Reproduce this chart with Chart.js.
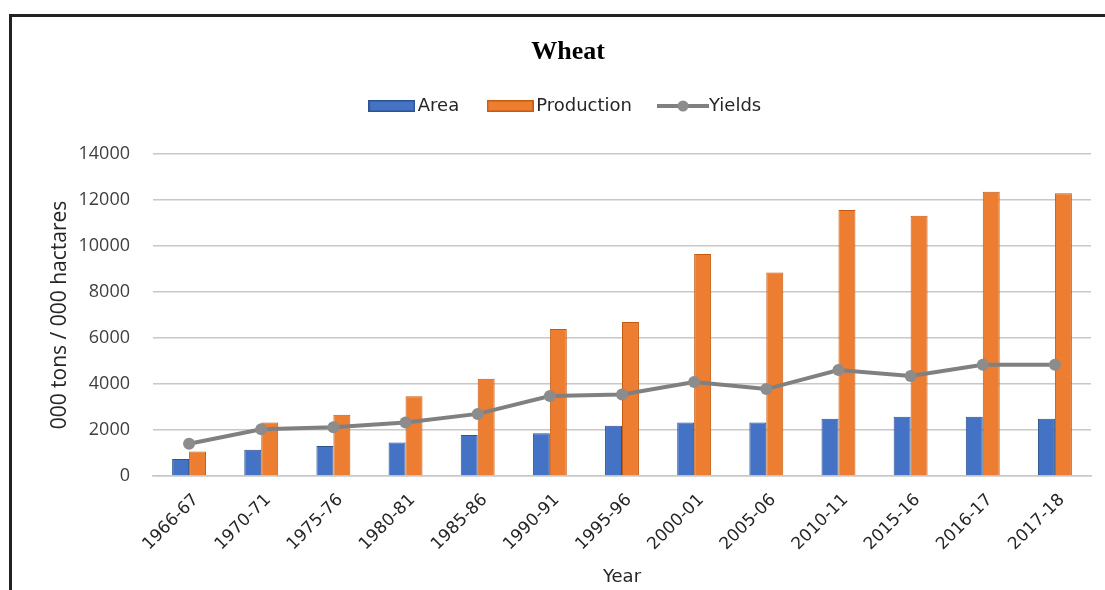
<!DOCTYPE html>
<html>
<head>
<meta charset="utf-8">
<script src="https://cdn.jsdelivr.net/npm/chart.js@4/dist/chart.umd.min.js"></script>
<style>
  html, body { margin: 0; padding: 0; background: #fff; }
  #wrap { position: relative; width: 1105px; height: 590px; overflow: hidden; }
  #frame {
    position: absolute; left: 9px; top: 14px; right: -10px; bottom: -10px;
    border-left: 3px solid #222; border-top: 3px solid #222; pointer-events: none;
  }
</style>
</head>
<body>
<div id="wrap">
  <canvas id="chart" width="1105" height="590"></canvas>
  <div id="frame"></div>
</div>
<script>
// Wheat: area (000 ha), production (000 t) and yields by year
const years = ['1966-67', '1970-71', '1975-76', '1980-81', '1985-86', '1990-91', '1995-96',
               '2000-01', '2005-06', '2010-11', '2015-16', '2016-17', '2017-18'];
const area = [740, 1140, 1300, 1460, 1780, 1860, 2190, 2330, 2330, 2490, 2580, 2580, 2490];
const production = [1060, 2330, 2660, 3470, 4230, 6390, 6700, 9650, 8850, 11560, 11320, 12360, 12290];
const yields = [1400, 2030, 2120, 2330, 2700, 3480, 3540, 4090, 3780, 4610, 4350, 4840, 4840];
const yTicks = [0, 2000, 4000, 6000, 8000, 10000, 12000, 14000];

const BLUE = '#4472c4', BLUE_EDGE = '#2f528f';
const ORANGE = '#ed7d31', ORANGE_EDGE = '#c55a11';
const GREY = '#808080';

// legend swatches: filled bar boxes and a line-with-marker icon
function boxIcon(fill, edge) {
  const c = document.createElement('canvas');
  c.width = 47; c.height = 12;
  const g = c.getContext('2d');
  g.fillStyle = fill; g.fillRect(0, 0, 47, 12);
  g.strokeStyle = edge; g.lineWidth = 1.5; g.strokeRect(0.75, 0.75, 45.5, 10.5);
  return c;
}
function lineIcon(color) {
  const c = document.createElement('canvas');
  c.width = 52; c.height = 14;
  const g = c.getContext('2d');
  g.strokeStyle = color; g.lineWidth = 4;
  g.beginPath(); g.moveTo(0, 7); g.lineTo(52, 7); g.stroke();
  g.fillStyle = '#8c8c8c';
  g.beginPath(); g.arc(26, 7, 5.5, 0, Math.PI * 2); g.fill();
  return c;
}
const legendIcons = [boxIcon(BLUE, BLUE_EDGE), boxIcon(ORANGE, ORANGE_EDGE), lineIcon(GREY)];

// extra room between the legend and the plot
const legendGap = {
  id: 'legendGap',
  beforeInit(chart) {
    const fit = chart.legend.fit;
    chart.legend.fit = function () { fit.call(this); this.height += 29; };
  }
};

new Chart(document.getElementById('chart'), {
  type: 'bar',
  data: {
    labels: years,
    datasets: [
      { label: 'Area', data: area, backgroundColor: BLUE, borderColor: BLUE_EDGE,
        borderWidth: 1, barPercentage: 1, categoryPercentage: 0.47, order: 1 },
      { label: 'Production', data: production, backgroundColor: ORANGE, borderColor: ORANGE_EDGE,
        borderWidth: 1, barPercentage: 1, categoryPercentage: 0.47, order: 1 },
      { type: 'line', label: 'Yields', data: yields, borderColor: GREY, borderWidth: 4,
        pointRadius: 6, pointBackgroundColor: '#8c8c8c', pointBorderColor: '#8c8c8c',
        pointBorderWidth: 0, tension: 0, fill: false, order: 0 }
    ]
  },
  options: {
    responsive: false,
    animation: false,
    layout: { padding: { left: 45, right: 14, top: 0, bottom: 0 } },
    plugins: {
      title: {
        display: true, text: 'Wheat', color: '#000',
        font: { family: '"Liberation Serif", "DejaVu Serif", serif', size: 26, weight: 'bold', lineHeight: 0.8 },
        padding: { top: 41.6, bottom: 0.6 }
      },
      legend: {
        position: 'top',
        labels: {
          usePointStyle: true, pointStyleWidth: 34, padding: 34, color: '#262626',
          font: { family: '"DejaVu Sans", sans-serif', size: 18 },
          generateLabels: (chart) => chart.data.datasets.map((ds, i) => ({
            text: ds.label, pointStyle: legendIcons[i], fillStyle: 'transparent',
            strokeStyle: 'transparent', lineWidth: 0, hidden: false, datasetIndex: i, fontColor: '#262626'
          }))
        }
      },
      tooltip: { enabled: false }
    },
    scales: {
      x: {
        grid: { display: false, drawTicks: false },
        border: { display: true, color: '#c8c8c8', width: 1.5 },
        ticks: {
          autoSkip: false, minRotation: 45, maxRotation: 45, padding: 14, labelOffset: 7,
          color: '#262626',
          font: { family: '"DejaVu Sans", sans-serif', size: 17 }
        },
        title: {
          display: true, text: 'Year', color: '#262626',
          font: { family: '"DejaVu Sans", sans-serif', size: 18 },
          padding: { top: 0, bottom: 2 }
        },
        afterFit(scale) { scale.height = 114; }
      },
      y: {
        min: 0, max: 14000,
        afterBuildTicks(scale) { scale.ticks = yTicks.map(v => ({ value: v })); },
        grid: { color: '#c8c8c8', lineWidth: 1.5, drawTicks: false },
        border: { display: false },
        ticks: {
          padding: 23, color: '#404040',
          font: { family: '"Open Sans", sans-serif', size: 18 },
          callback: (v) => String(v)
        },
        title: {
          display: true, text: '000 tons / 000 hactares', color: '#262626',
          font: { family: '"Open Sans", sans-serif', size: 21 },
          padding: { top: 2, bottom: 0 }
        },
        afterFit(scale) { scale.width = 108; }
      }
    }
  },
  plugins: [legendGap]
});
</script>
</body>
</html>
